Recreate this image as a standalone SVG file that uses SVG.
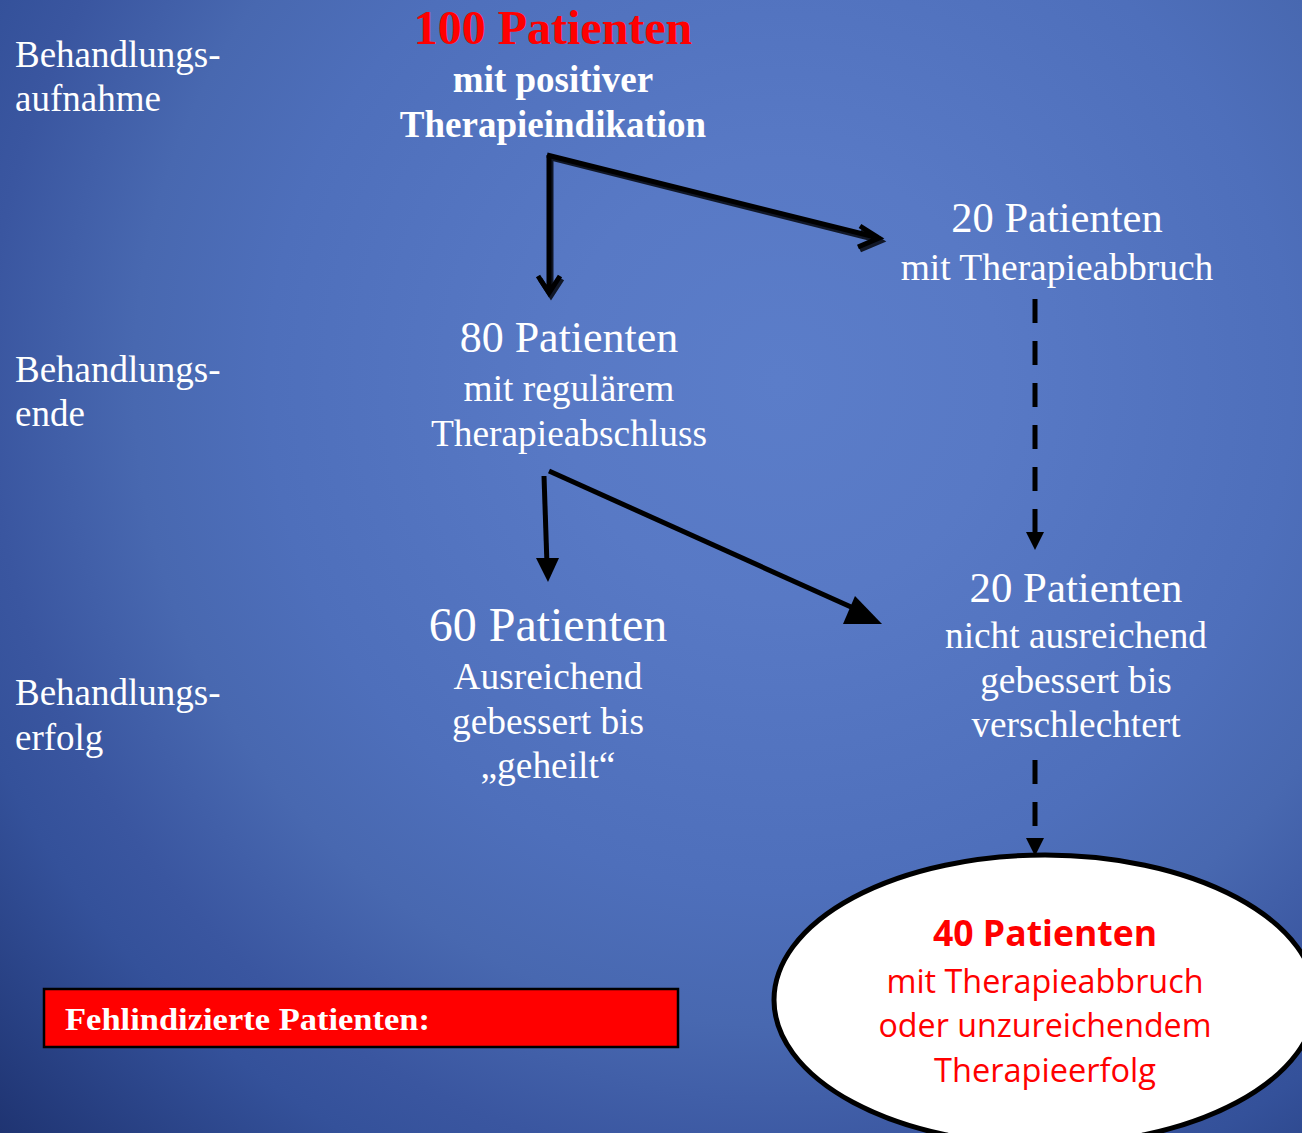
<svg xmlns="http://www.w3.org/2000/svg" width="1302" height="1133" viewBox="0 0 1302 1133">
<defs>
<radialGradient id="bg" cx="780" cy="380" r="1100" gradientUnits="userSpaceOnUse">
<stop offset="0" stop-color="#5b7dc9"/>
<stop offset="0.2" stop-color="#5879c5"/>
<stop offset="0.465" stop-color="#4e6fbb"/>
<stop offset="0.587" stop-color="#4868b0"/>
<stop offset="0.72" stop-color="#3a56a0"/>
<stop offset="0.79" stop-color="#34519a"/>
<stop offset="0.985" stop-color="#1f3472"/>
<stop offset="1" stop-color="#1e3370"/>
</radialGradient>
</defs>
<style>
.lab{font-family:"Liberation Serif",serif;font-size:37px;fill:#fff}
.node{font-family:"Liberation Serif",serif;fill:#fff;text-anchor:middle}
.red{font-family:"Open Sans","Noto Sans",sans-serif;fill:#ff0000;text-anchor:middle}
.conn{stroke:#000;fill:none;stroke-width:5}
.dash{stroke:#000;fill:none;stroke-width:5;stroke-dasharray:24 18}
</style>
<rect width="1302" height="1133" fill="url(#bg)"/>

<g id="stage-labels">
<text class="lab" x="15" y="67">Behandlungs-</text>
<text class="lab" x="15" y="111">aufnahme</text>
<text class="lab" x="15" y="382">Behandlungs-</text>
<text class="lab" x="15" y="426">ende</text>
<text class="lab" x="15" y="705">Behandlungs-</text>
<text class="lab" x="15" y="750">erfolg</text>
</g>

<g id="connectors">
<g transform="translate(2,3)" opacity="0.8">
<path class="conn" stroke="#666" d="M549,155 L549,293 M538,276 L549,293 L560,276"/>
<path class="conn" stroke="#666" d="M549,155 L879,238 M860,226 L879,238 L858,247"/>
</g>
<path class="conn" d="M549,155 L549,293 M538,276 L549,293 L560,276"/>
<path class="conn" d="M547,155 L879,238 M860,226 L879,238 L858,247"/>
<path class="conn" stroke-width="7.5" d="M544,476 L547,565"/>
<path d="M536,558 L559,558 L548,582 z" fill="#000"/>
<path class="conn" stroke-width="7.5" d="M549,471 L860,611"/>
<path d="M855,596 L882,624 L843,624 z" fill="#000"/>
<path class="dash" d="M1035,299 L1035,533"/>
<path d="M1026,532 L1044,532 L1035,550 z" fill="#000"/>
<path class="dash" d="M1035,760 L1035,840"/>
<path d="M1026,838 L1044,838 L1035,856 z" fill="#000"/>
</g>

<g id="n100">
<text class="node" x="553" y="44" font-size="48" font-weight="bold" style="fill:#ff0000">100 Patienten</text>
<text class="node" x="553" y="92" font-size="37" font-weight="bold">mit positiver</text>
<text class="node" x="553" y="137" font-size="37" font-weight="bold">Therapieindikation</text>
</g>

<g id="n20a">
<text class="node" x="1057" y="232" font-size="42.5">20 Patienten</text>
<text class="node" x="1057" y="280" font-size="37.5">mit Therapieabbruch</text>
</g>

<g id="n80">
<text class="node" x="569" y="352" font-size="44">80 Patienten</text>
<text class="node" x="569" y="401" font-size="37.4">mit regulärem</text>
<text class="node" x="569" y="446" font-size="37.4">Therapieabschluss</text>
</g>

<g id="n60">
<text class="node" x="548" y="641" font-size="48">60 Patienten</text>
<text class="node" x="548" y="689" font-size="37.4">Ausreichend</text>
<text class="node" x="548" y="734" font-size="37.4">gebessert bis</text>
<text class="node" x="548" y="778" font-size="37.4">„geheilt“</text>
</g>

<g id="n20b">
<text class="node" x="1076" y="602" font-size="42.8">20 Patienten</text>
<text class="node" x="1076" y="648" font-size="37.3">nicht ausreichend</text>
<text class="node" x="1076" y="693" font-size="37.3">gebessert bis</text>
<text class="node" x="1076" y="737" font-size="37.3">verschlechtert</text>
</g>

<g id="n40">
<ellipse cx="1045" cy="1000" rx="271" ry="145" fill="#fff" stroke="#000" stroke-width="5"/>
<text class="red" x="1045" y="946" font-size="36" font-weight="bold" textLength="224" lengthAdjust="spacingAndGlyphs">40 Patienten</text>
<text class="red" x="1045" y="993" font-size="32" textLength="317" lengthAdjust="spacingAndGlyphs">mit Therapieabbruch</text>
<text class="red" x="1045" y="1037" font-size="32" textLength="333" lengthAdjust="spacingAndGlyphs">oder unzureichendem</text>
<text class="red" x="1045" y="1082" font-size="32" textLength="222" lengthAdjust="spacingAndGlyphs">Therapieerfolg</text>
</g>

<g id="fehl">
<rect x="44" y="989" width="634" height="58" fill="#ff0000" stroke="#000" stroke-width="2.5"/>
<text x="65" y="1030" font-family="Liberation Serif,serif" font-weight="bold" font-size="32" fill="#fff" textLength="365" lengthAdjust="spacingAndGlyphs">Fehlindizierte Patienten:</text>
</g>
</svg>
